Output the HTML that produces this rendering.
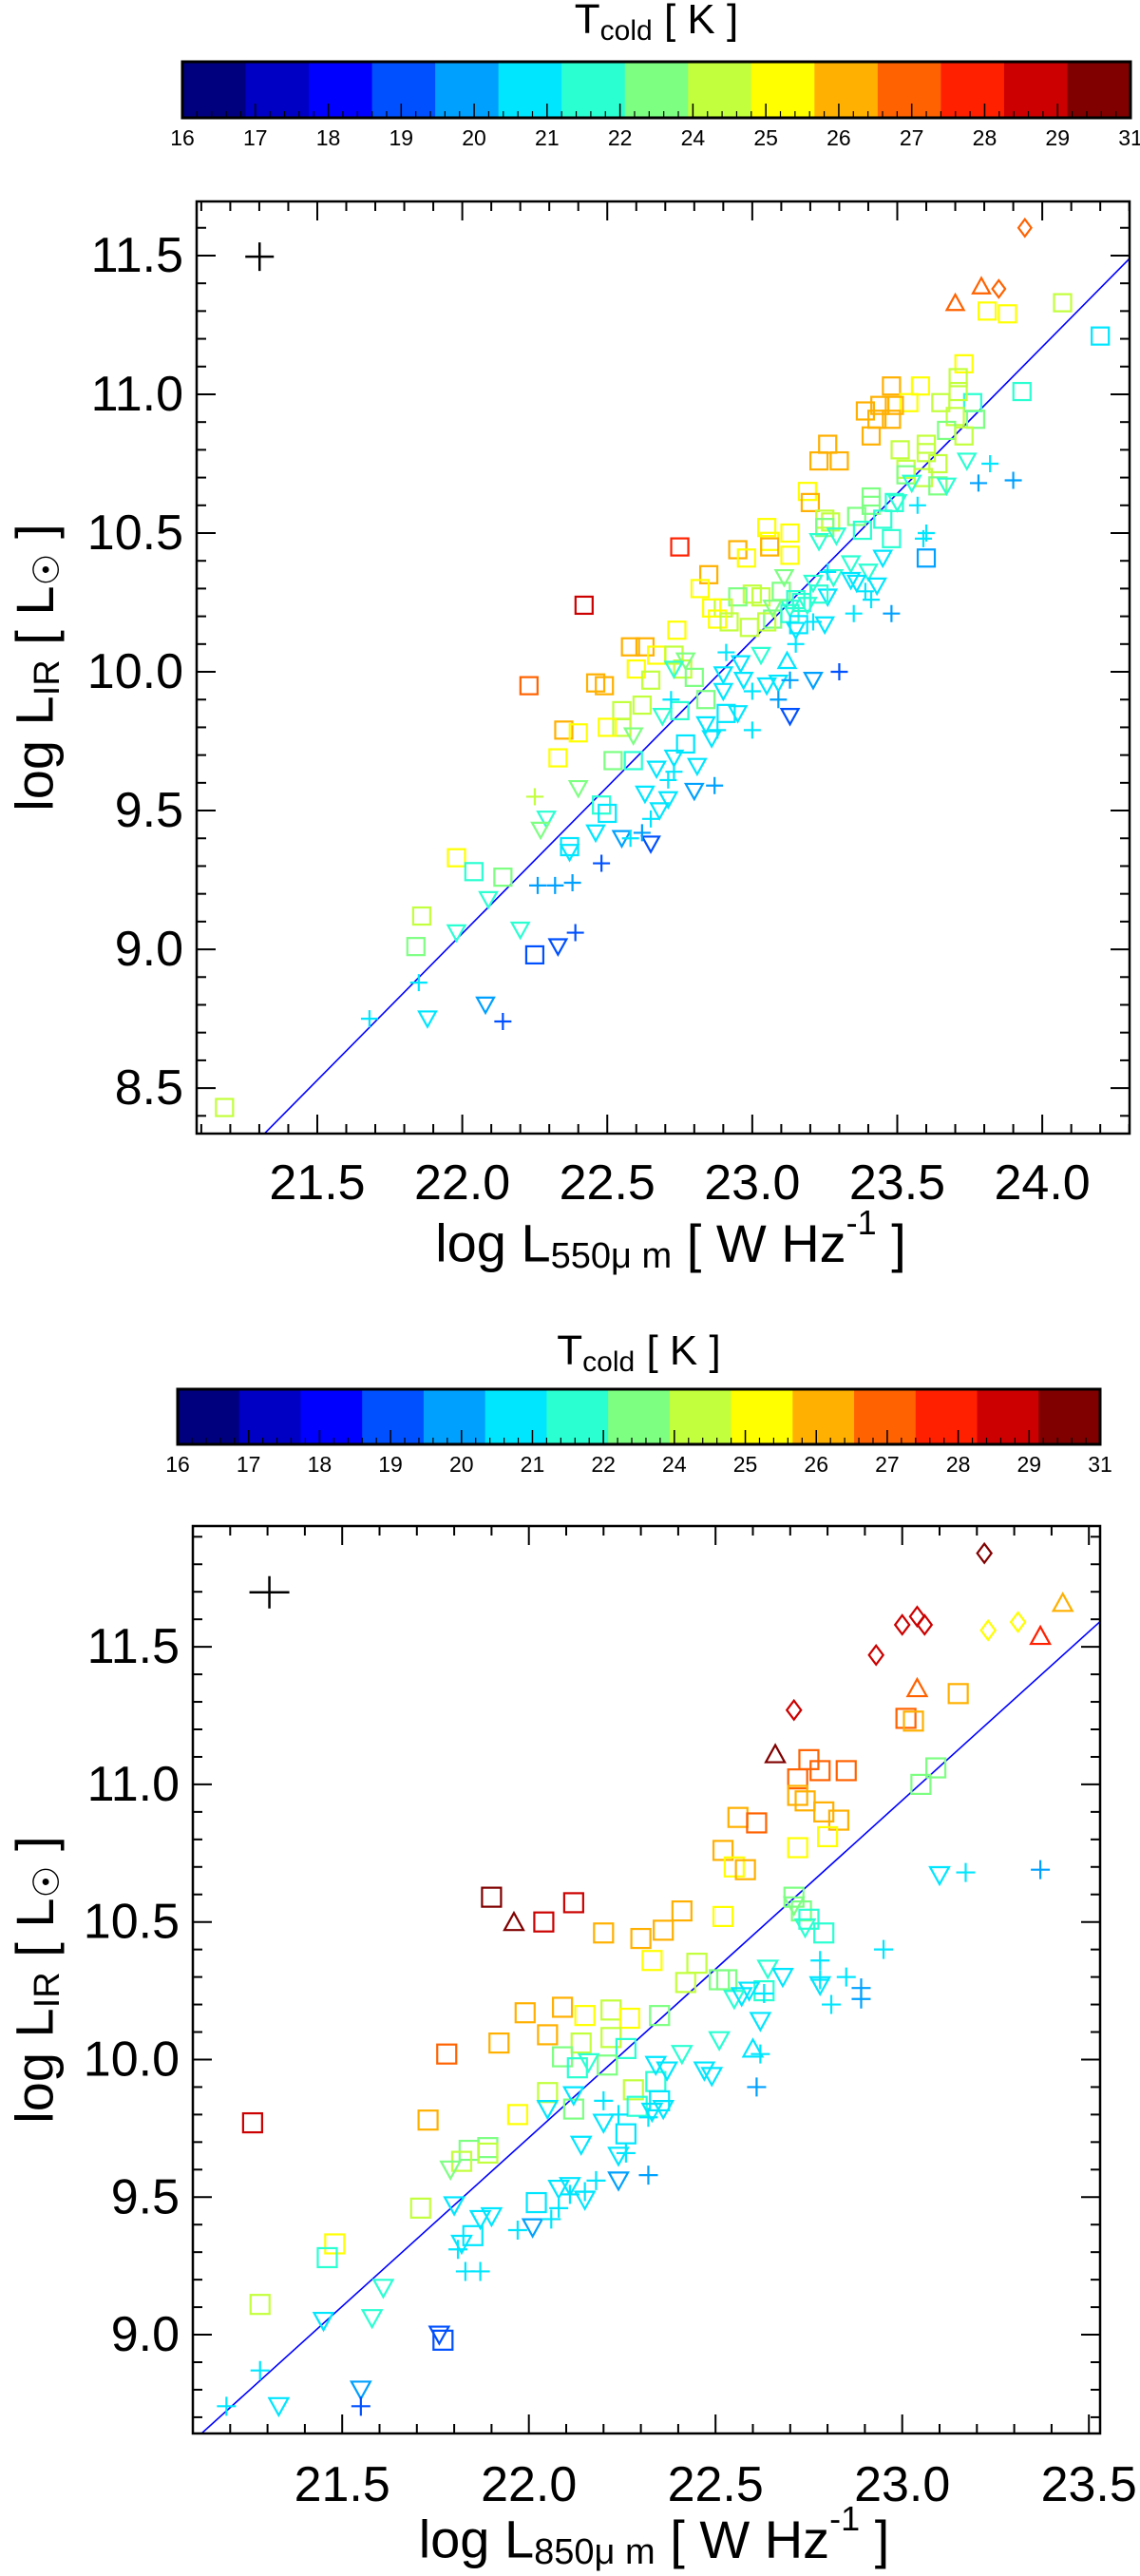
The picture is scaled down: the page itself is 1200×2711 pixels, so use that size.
<!DOCTYPE html>
<html><head><meta charset="utf-8"><style>
html,body{margin:0;padding:0;background:#fff}
svg{display:block}
text{font-family:"Liberation Sans","DejaVu Sans",sans-serif;fill:#000}
</style></head>
<body>
<svg id="fig" width="1200" height="2711" viewBox="0 0 1200 2711" xmlns="http://www.w3.org/2000/svg">
<defs>
<clipPath id="clipTop"><rect x="207" y="212" width="982" height="981"/></clipPath>
<clipPath id="clipBot"><rect x="203" y="1606" width="955" height="955"/></clipPath>
</defs>
</svg>
<script>
// ---------- shared colorbar data ----------
var cbColors = ["#00007f","#0000c4","#0000ff","#0050ff","#00a0ff","#00e6ff","#2affd2","#7dff82","#c2ff3c","#ffff00","#ffb000","#ff6200","#ff2000","#cc0000","#800000"];
var cbLabels = ["16","17","18","19","20","21","22","24","25","26","27","28","29","31"];
var topXTicks = [21.5,22.0,22.5,23.0,23.5,24.0];
var topYTicks = [8.5,9.0,9.5,10.0,10.5,11.0,11.5];
var botXTicks = [21.5,22.0,22.5,23.0,23.5];
var botYTicks = [9.0,9.5,10.0,10.5,11.0,11.5];
var topFit = [1.057,-14.197];
var botFit = [1.226,-17.256];
// ---------- top panel data (log L550, log LIR, T bin, shape) ----------
var topX = [23.94,23.85,23.79,23.70,23.81,23.88,24.07,24.20,23.93,23.73,23.71,23.58,23.48,23.54,23.65,23.76,23.44,23.49,23.39,23.43,23.48,23.41,23.71,23.70,23.77,23.67,23.73,23.26,23.23,23.30,23.51,23.60,23.60,23.53,23.64,23.53,23.59,23.64,23.74,23.67,23.82,23.78,23.90,
23.19,23.20,23.41,23.41,23.49,23.25,23.27,23.25,23.36,23.45,23.38,23.48,23.60,23.05,23.13,23.06,23.06,23.13,22.95,22.98,22.75,22.85,22.82,22.42,
23.23,23.29,23.34,23.40,23.45,23.43,23.28,23.26,23.34,23.11,23.13,23.21,23.36,23.50,23.55,
23.57,23.60,23.59,23.41,23.35,23.48,23.39,23.26,
23.10,23.03,23.00,22.95,22.90,22.86,22.88,22.92,22.99,23.07,23.15,23.13,23.17,23.16,23.05,23.23,
23.15,23.25,23.07,23.19,23.21,23.15,
22.74,22.58,22.63,22.67,22.60,22.65,22.73,22.76,22.80,22.23,22.46,22.49,22.62,22.55,22.55,22.50,22.35,22.40,22.33,22.84,22.75,22.91,22.77,22.52,22.59,22.48,22.50,22.37,21.98,22.04,22.14,21.86,21.84,22.25,21.18,
22.77,22.73,23.03,22.96,22.90,22.97,23.05,23.09,22.90,23.21,23.13,22.69,22.59,22.84,22.86,22.95,22.81,22.67,22.73,22.80,22.63,22.68,22.71,22.40,22.29,22.27,22.46,22.55,22.65,22.37,22.09,21.98,22.20,22.33,22.08,21.88,
23.12,
22.91,23.13,23.09,23.00,23.30,22.72,22.87,22.88,23.00,22.73,22.71,22.65,22.62,22.58,22.48,22.25,22.26,22.32,22.38,22.39,21.85,21.68,22.14];
var topY = [11.60,11.38,11.39,11.33,11.30,11.29,11.33,11.21,11.01,11.11,11.06,11.03,11.03,10.97,10.97,10.97,10.96,10.96,10.94,10.91,10.91,10.85,11.01,10.92,10.91,10.87,10.85,10.82,10.76,10.76,10.80,10.82,10.79,10.73,10.75,10.71,10.70,10.67,10.76,10.67,10.75,10.68,10.69,
10.65,10.61,10.63,10.60,10.61,10.55,10.54,10.52,10.56,10.55,10.51,10.48,10.41,10.52,10.50,10.47,10.45,10.42,10.44,10.41,10.45,10.35,10.30,10.24,
10.47,10.49,10.39,10.36,10.41,10.31,10.34,10.27,10.33,10.34,10.23,10.32,10.32,10.61,10.68,
10.60,10.50,10.48,10.26,10.21,10.21,10.29,10.36,
10.29,10.27,10.28,10.27,10.23,10.23,10.19,10.18,10.16,10.19,10.26,10.21,10.25,10.17,10.18,10.28,
10.15,10.17,10.23,10.24,10.18,10.10,
10.15,10.09,10.09,10.06,10.01,9.97,10.06,10.01,9.98,9.95,9.96,9.95,9.88,9.86,9.80,9.80,9.79,9.78,9.69,9.90,9.86,9.85,9.74,9.68,9.68,9.52,9.49,9.37,9.33,9.28,9.26,9.12,9.01,8.98,8.43,
10.04,10.01,10.06,10.03,9.99,9.97,9.95,9.96,9.93,9.97,9.84,9.84,9.77,9.81,9.76,9.85,9.66,9.65,9.69,9.57,9.56,9.50,9.54,9.58,9.47,9.43,9.42,9.40,9.38,9.35,9.18,9.06,9.07,9.01,8.80,8.75,
10.04,
10.07,9.97,9.90,9.93,10.00,9.90,9.59,9.79,9.79,9.64,9.61,9.47,9.42,9.40,9.31,9.55,9.23,9.23,9.24,9.06,8.88,8.75,8.74];
var topC = [11,11,11,11,9,9,8,5,6,9,8,9,10,9,8,6,10,10,10,10,10,10,8,8,7,7,8,10,10,10,8,8,8,8,8,7,8,7,6,6,5,4,4,
9,10,7,7,6,8,8,7,7,6,6,6,4,9,9,9,10,9,10,9,12,10,9,13,
6,6,6,6,5,5,6,5,5,7,6,6,5,6,6,
5,5,5,5,5,4,5,5,
7,8,8,7,8,9,9,8,8,7,6,6,6,5,8,6,
5,5,7,6,5,5,
9,10,10,9,9,8,8,8,7,11,10,10,8,8,8,9,10,9,9,7,6,5,5,7,6,6,5,5,9,6,7,8,7,3,8,
7,6,6,5,5,5,5,5,5,4,3,6,7,5,5,5,5,5,5,4,5,5,5,7,6,7,5,4,3,5,6,6,6,3,4,5,
5,
5,4,4,5,3,5,4,5,5,5,5,5,4,5,3,8,4,4,4,3,5,5,3];
var topS = ["d","d","u","u","s","s","s","s","s","s","s","s","s","s","s","s","s","s","s","s","s","s","s","s","s","s","s","s","s","s","s","s","s","s","s","s","s","s","t","t","p","p","p",
"s","s","s","s","s","s","s","s","s","s","s","s","s","s","s","s","s","s","s","s","s","s","s","s",
"t","t","t","t","t","t","t","t","t","t","t","t","t","t","t",
"p","p","p","p","p","p","p","p",
"s","s","s","s","s","s","s","s","s","s","s","s","s","s","s","s",
"t","t","t","t","p","p",
"s","s","s","s","s","s","s","s","s","s","s","s","s","s","s","s","s","s","s","s","s","s","s","s","s","s","s","s","s","s","s","s","s","s","s",
"t","t","t","t","t","t","t","t","t","t","t","t","t","t","t","t","t","t","t","t","t","t","t","t","t","t","t","t","t","t","t","t","t","t","t","t",
"u",
"p","p","p","p","p","p","p","p","p","p","p","p","p","p","p","p","p","p","p","p","p","p","p"];
// ---------- bottom panel data (log L850, log LIR, T bin, shape) ----------
var botX = [23.22,22.93,23.00,23.04,23.06,22.71,23.23,23.31,
23.43,23.37,23.04,22.66,21.96,22.60,
23.15,23.01,23.03,23.09,23.05,22.75,22.72,22.78,22.85,22.72,22.74,22.79,22.83,22.80,22.56,22.61,22.72,22.52,22.55,22.58,22.52,22.41,22.36,22.30,22.20,22.33,22.45,22.42,22.51,22.53,22.71,22.73,22.75,22.79,22.63,21.90,22.04,22.12,21.26,21.78,21.99,22.09,22.15,22.22,22.27,22.35,21.92,22.05,22.14,22.22,22.26,22.09,22.13,22.21,22.05,22.12,22.28,22.34,22.35,22.29,21.97,21.73,22.26,21.84,21.89,21.89,21.82,21.71,22.02,21.85,21.48,21.46,21.28,21.77,
22.71,22.74,22.64,22.68,22.59,22.55,22.57,22.78,22.62,22.51,22.41,22.47,22.49,22.34,22.37,22.36,22.33,22.20,22.24,22.14,22.05,22.12,22.16,21.79,21.80,21.82,21.87,21.90,22.08,22.11,22.15,22.24,22.01,21.61,21.45,21.58,21.33,21.76,21.55,23.10,
23.17,23.37,22.95,22.78,22.85,22.81,22.89,22.89,22.78,22.62,22.61,22.32,22.24,22.20,22.26,22.32,22.18,22.15,22.11,22.08,22.06,21.97,21.81,21.83,21.87,21.28,21.19,21.55,22.63];
var botY = [11.84,11.47,11.58,11.61,11.58,11.27,11.56,11.59,
11.66,11.54,11.35,11.11,10.50,10.04,
11.33,11.24,11.23,11.06,11.00,11.09,11.02,11.05,11.05,10.96,10.94,10.90,10.87,10.81,10.88,10.86,10.77,10.76,10.70,10.69,10.52,10.54,10.47,10.44,10.46,10.36,10.35,10.28,10.29,10.29,10.59,10.54,10.51,10.46,10.25,10.59,10.50,10.57,9.77,10.02,10.17,10.19,10.16,10.18,10.15,10.16,10.06,10.09,10.06,10.08,10.04,10.01,9.97,9.98,9.88,9.82,9.89,9.92,9.85,9.83,9.80,9.78,9.73,9.67,9.68,9.66,9.63,9.46,9.48,9.36,9.33,9.28,9.11,8.98,
10.56,10.48,10.33,10.30,10.25,10.22,10.23,10.27,10.14,10.07,10.02,9.96,9.94,9.98,9.96,9.82,9.81,9.77,9.65,9.69,9.82,9.87,9.99,9.60,9.47,9.33,9.42,9.43,9.53,9.54,9.49,9.56,9.39,9.17,9.05,9.06,8.74,9.00,8.80,10.67,
10.68,10.69,10.40,10.36,10.30,10.20,10.22,10.26,10.29,10.02,9.90,9.58,9.80,9.85,9.66,9.79,9.56,9.52,9.51,9.46,9.42,9.38,9.31,9.23,9.23,8.87,8.74,8.74,10.24];
var botC = [14,13,13,13,13,13,9,9,
10,12,11,14,14,5,
10,11,10,7,7,11,11,11,11,10,10,10,10,9,10,11,9,10,9,10,9,10,10,10,10,9,8,8,7,7,7,7,6,6,6,14,13,13,13,11,10,10,9,8,9,7,10,10,8,8,6,7,6,7,8,7,8,6,5,6,9,10,5,7,7,8,8,8,5,5,9,6,8,3,
7,6,6,5,5,6,5,5,5,6,6,5,5,5,5,5,5,5,5,5,5,5,6,7,5,5,5,5,5,5,5,4,4,6,5,6,5,3,4,5,
5,4,5,5,5,5,4,4,5,5,4,4,5,5,5,5,5,5,5,5,5,5,5,5,5,5,5,3,5];
var botS = ["d","d","d","d","d","d","d","d",
"u","u","u","u","u","u",
"s","s","s","s","s","s","s","s","s","s","s","s","s","s","s","s","s","s","s","s","s","s","s","s","s","s","s","s","s","s","s","s","s","s","s","s","s","s","s","s","s","s","s","s","s","s","s","s","s","s","s","s","s","s","s","s","s","s","s","s","s","s","s","s","s","s","s","s","s","s","s","s","s","s",
"t","t","t","t","t","t","t","t","t","t","t","t","t","t","t","t","t","t","t","t","t","t","t","t","t","t","t","t","t","t","t","t","t","t","t","t","t","t","t","t",
"p","p","p","p","p","p","p","p","p","p","p","p","p","p","p","p","p","p","p","p","p","p","p","p","p","p","p","p","p"];

var NS = "http://www.w3.org/2000/svg";
var svg = document.getElementById("fig");
function el(tag, attrs, parent){
  var e = document.createElementNS(NS, tag);
  for (var k in attrs) e.setAttribute(k, attrs[k]);
  (parent || svg).appendChild(e);
  return e;
}

function colorbar(x0, x1, y0, y1, titleY, labelY, prefix){
  var g = el("g", {});
  
  
  var w = (x1 - x0) / cbColors.length;
  for (var i = 0; i < cbColors.length; i++){
    var r = el("rect", {x: x0 + i*w, y: y0, width: w + 0.6, height: y1 - y0, fill: cbColors[i]}, g);
    
    
  }
  var n = cbLabels.length - 1, step = (x1 - x0) / n;
  for (var j = 0; j <= n; j++){
    var tx = x0 + j*step;
    el("line", {x1: tx, x2: tx, y1: y1, y2: y1 - 15, stroke: "#000", "stroke-width": 1.5}, g);
    if (j < n) for (var m = 1; m < 5; m++){
      var mx = tx + m*step/5;
      el("line", {x1: mx, x2: mx, y1: y1, y2: y1 - 7, stroke: "#000", "stroke-width": 1.2}, g);
    }
    var t = el("text", {x: tx, y: labelY, "font-size": 23, "text-anchor": "middle", "dominant-baseline": "central"}, g);
    t.textContent = cbLabels[j];
    
    
  }
  el("rect", {x: x0, y: y0, width: x1 - x0, height: y1 - y0, fill: "none", stroke: "#000", "stroke-width": 3}, g);
  var tt = el("text", {x: (x0 + x1)/2, y: titleY, "font-size": 44, "text-anchor": "middle", "dominant-baseline": "central"}, g);
  tt.innerHTML = 'T<tspan font-size="30" dy="12">cold</tspan><tspan dy="-12"> [ K ]</tspan>';
  
  
}

function panel(p){
  var g = el("g", {});
  
  
  function X(v){ return p.fx0 + (v - p.xmin) / (p.xmax - p.xmin) * (p.fx1 - p.fx0); }
  function Y(v){ return p.fy1 - (v - p.ymin) / (p.ymax - p.ymin) * (p.fy1 - p.fy0); }
  // minor/major ticks
  var v;
  for (v = Math.ceil(p.xmin*10); v <= Math.floor(p.xmax*10); v++){
    var xv = X(v/10), maj = (v % 5 === 0), L = maj ? 20 : 10;
    el("line", {x1: xv, x2: xv, y1: p.fy1, y2: p.fy1 - L, stroke: "#000", "stroke-width": 2}, g);
    el("line", {x1: xv, x2: xv, y1: p.fy0, y2: p.fy0 + L, stroke: "#000", "stroke-width": 2}, g);
  }
  for (v = Math.ceil(p.ymin*10); v <= Math.floor(p.ymax*10); v++){
    var yv = Y(v/10), majy = (v % 5 === 0), Ly = majy ? 20 : 10;
    el("line", {x1: p.fx0, x2: p.fx0 + Ly, y1: yv, y2: yv, stroke: "#000", "stroke-width": 2}, g);
    el("line", {x1: p.fx1, x2: p.fx1 - Ly, y1: yv, y2: yv, stroke: "#000", "stroke-width": 2}, g);
  }
  p.xt.forEach(function(t){
    var lt = el("text", {x: X(t), y: p.xlabY, "font-size": 52, "text-anchor": "middle", "dominant-baseline": "central"}, g);
    lt.textContent = t.toFixed(1);
    
    
  });
  p.yt.forEach(function(t){
    var lt = el("text", {x: p.fx0 - 14, y: Y(t), "font-size": 52, "text-anchor": "end", "dominant-baseline": "central"}, g);
    lt.textContent = t.toFixed(1);
    
    
  });
  // fit line
  var fl = el("line", {x1: X(p.xmin), y1: Y(p.fit[0]*p.xmin + p.fit[1]), x2: X(p.xmax), y2: Y(p.fit[0]*p.xmax + p.fit[1]), stroke: "#0000ff", "stroke-width": 1.6, "clip-path": "url(#" + p.clip + ")"}, g);
  
  
  // markers
  var h = p.ms/2;
  for (var i = 0; i < p.xs.length; i++){
    var cx = X(p.xs[i]), cy = Y(p.ys[i]), col = cbColors[p.cs[i]], s = p.ss[i], m;
    var st = {fill: "none", stroke: col, "stroke-width": 2.2};
    if (s === "s"){
      st.x = cx - h; st.y = cy - h; st.width = p.ms; st.height = p.ms;
      m = el("rect", st, g);
    } else if (s === "t"){
      st.points = (cx-h)+","+(cy-h*0.85)+" "+(cx+h)+","+(cy-h*0.85)+" "+cx+","+(cy+h*0.95);
      m = el("polygon", st, g);
    } else if (s === "u"){
      st.points = (cx-h)+","+(cy+h*0.85)+" "+(cx+h)+","+(cy+h*0.85)+" "+cx+","+(cy-h*0.95);
      m = el("polygon", st, g);
    } else if (s === "d"){
      st.points = (cx-h*0.75)+","+cy+" "+cx+","+(cy-h)+" "+(cx+h*0.75)+","+cy+" "+cx+","+(cy+h);
      m = el("polygon", st, g);
    } else {
      st.d = "M"+(cx-h)+" "+cy+"H"+(cx+h)+"M"+cx+" "+(cy-h)+"V"+(cy+h);
      m = el("path", st, g);
    }
    
    
  }
  // error cross
  var ex = X(p.cross[0]), ey = Y(p.cross[1]), a = p.cross[2];
  var cr = el("path", {d: "M"+(ex-a)+" "+ey+"H"+(ex+a)+"M"+ex+" "+(ey-p.cross[3])+"V"+(ey+p.cross[3]), stroke: "#000", "stroke-width": 2.5, fill: "none"}, g);
  
  
  var fr = el("rect", {x: p.fx0, y: p.fy0, width: p.fx1 - p.fx0, height: p.fy1 - p.fy0, fill: "none", stroke: "#000", "stroke-width": 2.5}, g);
  
  
  // axis titles
  var xt = el("text", {x: (p.fx0 + p.fx1)/2 + 8, y: p.xtitleY, "font-size": 56, "text-anchor": "middle", "dominant-baseline": "central"}, g);
  xt.innerHTML = 'log L<tspan font-size="38" dy="14">' + p.band + '</tspan><tspan dy="-14"> [ W Hz</tspan><tspan font-size="36" dy="-22">-1</tspan><tspan dy="22"> ]</tspan>';
  
  
  var cyT = (p.fy0 + p.fy1)/2;
  var yt = el("text", {x: 0, y: 0, "font-size": 56, "text-anchor": "middle", "dominant-baseline": "central", transform: "translate(36," + cyT + ") rotate(-90)"}, g);
  yt.innerHTML = 'log  L<tspan font-size="38" dy="14">IR</tspan><tspan dy="-14"> [ L</tspan><tspan font-size="38" dy="14">☉</tspan><tspan dy="-14"> ]</tspan>';
  
  
}

colorbar(192, 1190, 65, 124, 20, 145, "top");
colorbar(187, 1158, 1462, 1520, 1421, 1541, "bottom");

panel({name: "top-panel-550um", fx0: 207, fx1: 1189, fy0: 212, fy1: 1193,
  xmin: 21.084, xmax: 24.301, ymin: 8.336, ymax: 11.695,
  xs: topX, ys: topY, cs: topC, ss: topS, xt: topXTicks, yt: topYTicks,
  fit: topFit, clip: "clipTop", ms: 18, cross: [21.301, 11.496, 15, 15],
  xlabY: 1245, xtitleY: 1308, band: "550μ m"});

panel({name: "bottom-panel-850um", fx0: 203, fx1: 1158, fy0: 1606, fy1: 2561,
  xmin: 21.100, xmax: 23.530, ymin: 8.641, ymax: 11.939,
  xs: botX, ys: botY, cs: botC, ss: botS, xt: botXTicks, yt: botYTicks,
  fit: botFit, clip: "clipBot", ms: 20, cross: [21.305, 11.698, 21, 17],
  xlabY: 2615, xtitleY: 2672, band: "850μ m"});
</script>
</body></html>
